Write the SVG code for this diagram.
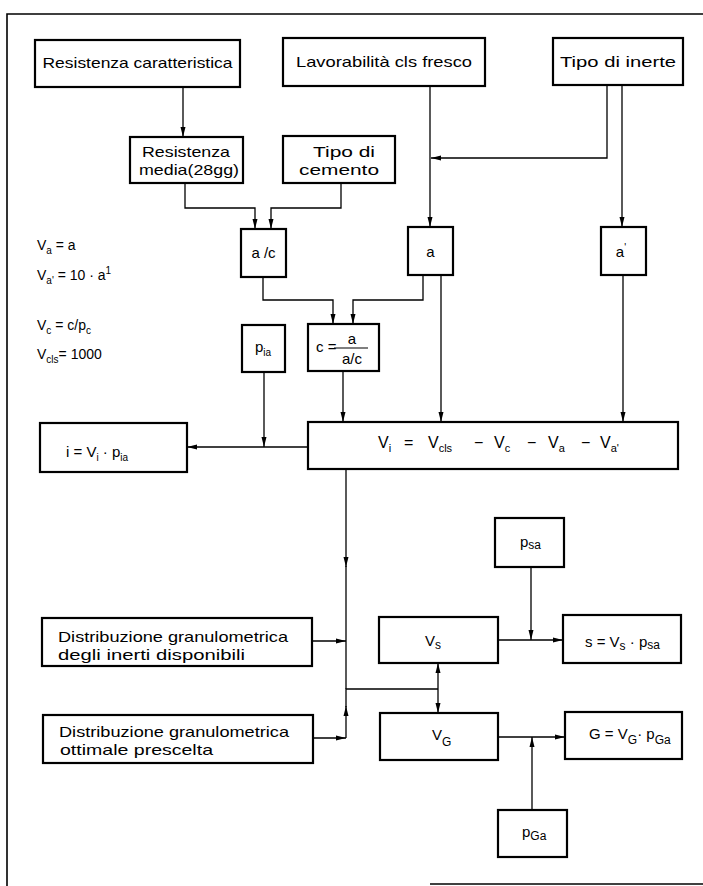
<svg xmlns="http://www.w3.org/2000/svg" width="703" height="886" viewBox="0 0 703 886">
<defs>
<style>
.box{fill:#fff;stroke:#000;stroke-width:2.2}
.ln{fill:none;stroke:#000;stroke-width:1.3}
.ar{marker-end:url(#ah)}
.frame{fill:none;stroke:#000;stroke-width:1.6}
text{font-family:"Liberation Sans",Arial,sans-serif;font-size:15px;fill:#000}
.c{text-anchor:middle}
.f{font-size:14px}
.s{font-size:10px}
.vi{font-size:16px}
.vs{font-size:11px}
</style>
<marker id="ah" markerWidth="10" markerHeight="6" refX="10" refY="3" orient="auto" markerUnits="userSpaceOnUse"><path d="M0,0.5 L10,3 L0,5.5 z" fill="#000"/></marker>
</defs>
<rect width="703" height="886" fill="#fff"/>
<g id="frame">
<path class="frame" d="M7,886 V14 H703"/>
<path class="frame" d="M430,884 H703"/>
</g>
<g id="connectors">
<path class="ln ar" d="M183,87 V137"/>
<path class="ln ar" d="M430,86 V227"/>
<path class="ln ar" d="M607,85 V158 H431"/>
<path class="ln ar" d="M622,85 V227"/>
<path class="ln ar" d="M185,183 V208 H255 V229"/>
<path class="ln ar" d="M341,183 V208 H271 V229"/>
<path class="ln ar" d="M263,277 V300 H333 V324"/>
<path class="ln ar" d="M423,275 V300 H353 V324"/>
<path class="ln ar" d="M441,275 V422"/>
<path class="ln ar" d="M343,371 V422"/>
<path class="ln ar" d="M623,275 V422"/>
<path class="ln ar" d="M308,447 H187"/>
<path class="ln ar" d="M264,372 V447"/>
<path class="ln ar" d="M346,469 V567"/>
<path class="ln" d="M346,566 V689"/>
<path class="ln ar" d="M312,641 H346"/>
<path class="ln ar" d="M313,738 H346"/>
<path class="ln ar" d="M346,738 V706"/>
<path class="ln" d="M346,707 V689 H438"/>
<path class="ln ar" d="M438,689 V663"/>
<path class="ln ar" d="M438,689 V713"/>
<path class="ln ar" d="M498,640 H563"/>
<path class="ln ar" d="M531,567 V640"/>
<path class="ln ar" d="M498,737 H565"/>
<path class="ln ar" d="M532,810 V737"/>
</g>
<g id="n-res-car">
<rect class="box" x="35" y="40" width="205" height="47"/>
<text x="137.5" y="68" class="c" textLength="190" lengthAdjust="spacingAndGlyphs">Resistenza caratteristica</text>
</g>
<g id="n-lavorabilita">
<rect class="box" x="283" y="38" width="202" height="48"/>
<text x="384" y="67" class="c" textLength="176" lengthAdjust="spacingAndGlyphs">Lavorabilità cls fresco</text>
</g>
<g id="n-tipo-inerte">
<rect class="box" x="553" y="38" width="130" height="47"/>
<text x="618" y="67" class="c" textLength="116" lengthAdjust="spacingAndGlyphs">Tipo di inerte</text>
</g>
<g id="n-res-media">
<rect class="box" x="130" y="137" width="113" height="46"/>
<text x="186" y="157" class="c" textLength="88" lengthAdjust="spacingAndGlyphs">Resistenza</text>
<text x="189" y="175" class="c" textLength="100" lengthAdjust="spacingAndGlyphs">media(28gg)</text>
</g>
<g id="n-tipo-cemento">
<rect class="box" x="283" y="136" width="112" height="47"/>
<text x="344" y="157" class="c" textLength="62" lengthAdjust="spacingAndGlyphs">Tipo di</text>
<text x="339" y="175" class="c" textLength="80" lengthAdjust="spacingAndGlyphs">cemento</text>
</g>
<g id="n-ac">
<rect class="box" x="241" y="229" width="45" height="48"/>
<text x="263.5" y="258" class="c">a /c</text>
</g>
<g id="n-a">
<rect class="box" x="408" y="227" width="45" height="48"/>
<text x="430.5" y="257" class="c">a</text>
</g>
<g id="n-a1">
<rect class="box" x="601" y="227" width="45" height="48"/>
<text x="621" y="257" class="c">a<tspan dy="-6" class="s">'</tspan></text>
</g>
<g id="formulas">
<text x="37" y="250" class="f">V<tspan dy="4" class="s">a</tspan><tspan dy="-4"> = a</tspan></text>
<text x="37" y="280" class="f">V<tspan dy="4" class="s">a'</tspan><tspan dy="-4"> = 10 · a</tspan><tspan dy="-6" class="s">1</tspan></text>
<text x="37" y="330" class="f">V<tspan dy="4" class="s">c</tspan><tspan dy="-4"> = c/p</tspan><tspan dy="4" class="s">c</tspan></text>
<text x="37" y="359" class="f">V<tspan dy="4" class="s">cls</tspan><tspan dy="-4">= 1000</tspan></text>
</g>
<g id="n-pia">
<rect class="box" x="242" y="325" width="43" height="47"/>
<text x="255" y="352">p<tspan dy="4" class="s">ia</tspan></text>
</g>
<g id="n-c">
<rect class="box" x="308" y="324" width="71" height="47"/>
<text x="316" y="352">c =</text>
<line x1="334" y1="348" x2="368" y2="348" stroke="#000" stroke-width="1.2"/>
<text x="352" y="344" class="c">a</text>
<text x="352" y="364" class="c">a/c</text>
</g>
<g id="n-vi">
<rect class="box" x="308" y="422" width="370" height="47"/>
<text y="448" class="vi"><tspan x="378">V</tspan><tspan dy="4" class="vs">i</tspan><tspan x="404" dy="-4">=</tspan><tspan x="428">V</tspan><tspan dy="4" class="vs">cls</tspan><tspan x="474" dy="-4">−</tspan><tspan x="494">V</tspan><tspan dy="4" class="vs">c</tspan><tspan x="527" dy="-4">−</tspan><tspan x="548">V</tspan><tspan dy="4" class="vs">a</tspan><tspan x="581" dy="-4">−</tspan><tspan x="600">V</tspan><tspan dy="4" class="vs">a'</tspan></text>
</g>
<g id="n-i">
<rect class="box" x="40" y="423" width="147" height="49"/>
<text x="66" y="457">i = V<tspan dy="4" class="s">i</tspan><tspan dy="-4"> · p</tspan><tspan dy="4" class="s">ia</tspan></text>
</g>
<g id="n-dist1">
<rect class="box" x="42" y="618" width="270" height="48"/>
<text x="58" y="642" textLength="230" lengthAdjust="spacingAndGlyphs">Distribuzione granulometrica</text>
<text x="58" y="660" textLength="187" lengthAdjust="spacingAndGlyphs">degli inerti disponibili</text>
</g>
<g id="n-dist2">
<rect class="box" x="43" y="715" width="270" height="48"/>
<text x="59" y="737" textLength="230" lengthAdjust="spacingAndGlyphs">Distribuzione granulometrica</text>
<text x="60" y="755" textLength="153" lengthAdjust="spacingAndGlyphs">ottimale prescelta</text>
</g>
<g id="n-psa">
<rect class="box" x="495" y="518" width="69" height="49"/>
<text x="520" y="547">p<tspan dy="2" font-size="12">sa</tspan></text>
</g>
<g id="n-vs">
<rect class="box" x="379" y="617" width="119" height="46"/>
<text x="425" y="646">V<tspan dy="3" font-size="12">s</tspan></text>
</g>
<g id="n-s">
<rect class="box" x="563" y="615" width="118" height="48"/>
<text x="585" y="647">s = V<tspan dy="3" font-size="12">s</tspan><tspan dy="-3"> · p</tspan><tspan dy="2" font-size="12">sa</tspan></text>
</g>
<g id="n-vg">
<rect class="box" x="380" y="713" width="118" height="47"/>
<text x="432" y="740">V<tspan dy="6" font-size="12">G</tspan></text>
</g>
<g id="n-g">
<rect class="box" x="565" y="712" width="117" height="47"/>
<text x="589" y="739">G = V<tspan dy="5" font-size="12">G</tspan><tspan dy="-5">· p</tspan><tspan dy="5" font-size="12">Ga</tspan></text>
</g>
<g id="n-pga">
<rect class="box" x="498" y="810" width="69" height="47"/>
<text x="522" y="837">p<tspan dy="3" font-size="12">Ga</tspan></text>
</g>
</svg>
